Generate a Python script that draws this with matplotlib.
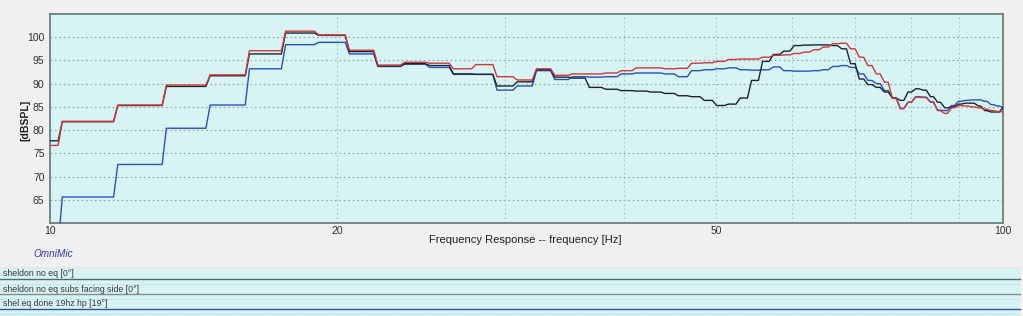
import matplotlib
matplotlib.use("Agg")
import matplotlib.pyplot as plt
from matplotlib.patches import Rectangle
from matplotlib.lines import Line2D

plt.rcParams['font.family'] = ['Liberation Sans', 'DejaVu Sans']

# FFT bin edges (Hz), bin width 48000/32768 Hz
BIN_EDGES_HZ = [8.79, 10.25, 11.72, 13.18, 14.65, 16.11, 17.58, 19.04, 20.51, 21.97,
                23.44, 24.90, 26.37, 27.83, 29.30, 30.76, 32.23, 33.69, 35.16, 36.62,
                38.09, 39.55, 41.02, 42.48, 43.95, 45.41, 46.88, 48.34, 49.80, 51.27,
                52.73, 54.20, 55.66, 57.13, 58.59, 60.06, 61.52, 62.99, 64.45, 65.92,
                67.38, 68.85, 70.31, 71.78, 73.24, 74.71, 76.17, 77.64, 79.10, 80.57,
                82.03, 83.50, 84.96, 86.43, 87.89, 89.36, 90.82, 92.29, 93.75, 95.21,
                96.68, 98.14, 99.61, 101.07]

# series levels per bin [dBSPL]
SHELDON_NO_EQ = [76.7, 81.9, 85.4, 89.7, 91.9, 97.1, 101.3, 100.5, 97.2, 94.0,
                 94.6, 94.4, 93.2, 94.1, 91.5, 90.8, 93.2, 91.8, 92.1, 92.1,
                 92.3, 92.8, 93.4, 93.4, 93.2, 93.3, 94.4, 94.5, 94.8, 95.2,
                 95.3, 95.3, 95.7, 96.1, 96.2, 96.5, 96.8, 97.3, 97.9, 98.6,
                 98.7, 97.5, 95.7, 93.9, 92.1, 90.3, 86.8, 84.6, 86.0, 87.1,
                 87.0, 86.0, 84.2, 83.6, 84.8, 85.3, 85.2, 85.0, 84.8, 84.5,
                 84.2, 84.0, 83.9]

SHELDON_SUBS_SIDE = [77.7, 81.8, 85.3, 89.4, 91.7, 96.4, 100.9, 100.4, 96.9, 93.8,
                     94.3, 93.9, 92.1, 92.0, 89.5, 90.4, 93.0, 91.4, 91.2, 89.2,
                     88.8, 88.5, 88.4, 88.2, 87.9, 87.4, 87.2, 86.4, 85.3, 85.6,
                     86.9, 90.7, 94.8, 96.3, 97.0, 98.2, 98.3, 98.35, 98.35, 98.2,
                     97.5, 94.3, 91.0, 89.8, 89.2, 88.2, 86.9, 86.4, 88.2, 88.9,
                     88.6, 87.2, 86.0, 84.8, 85.0, 85.6, 85.8, 85.8, 85.2, 84.2,
                     83.9, 83.9, 85.0]

SHEL_EQ_19HZ = [55.0, 65.6, 72.6, 80.4, 85.4, 93.2, 98.4, 98.9, 96.4, 93.7,
                94.2, 93.5, 92.0, 92.0, 88.6, 89.5, 92.8, 90.9, 91.5, 91.4,
                91.5, 92.1, 92.3, 92.3, 92.1, 91.5, 92.8, 93.0, 93.2, 93.4,
                93.0, 92.9, 93.0, 93.6, 92.8, 92.7, 92.7, 92.8, 93.0, 93.7,
                93.9, 93.5, 92.1, 90.7, 90.0, 88.5, 86.9, 84.7, 86.0, 87.2,
                87.1, 86.1, 84.3, 84.2, 85.3, 86.2, 86.4, 86.5, 86.5, 86.2,
                85.5, 85.2, 84.8]

LEGEND_LABELS = ["sheldon no eq [0°]",
                 "sheldon no eq subs facing side [0°]",
                 "shel eq done 19hz hp [19°]"]
Y_TICKS = [65, 70, 75, 80, 85, 90, 95, 100]
X_TICKS = [10, 20, 50, 100]
X_GRID = [20, 30, 40, 50, 60, 70, 80, 90]

W, H = 1023, 316
fig = plt.figure(figsize=(W / 100, H / 100), dpi=100)
fig.patch.set_facecolor('#f0f0f0')


def fx(x):
    return x / W


def fy(y):
    return 1 - y / H


def held_path(edges, values, ramp=10 ** 0.0022):
    """Hold each bin level, with a short sloped transition at each bin edge."""
    xs, ys = [], []
    for i, v in enumerate(values):
        xs += [edges[i] * ramp, edges[i + 1] / ramp]
        ys += [v, v]
    return xs, ys


ax = fig.add_axes([fx(50), fy(223), fx(1003) - fx(50), fy(14) - fy(223)])
ax.set_facecolor('#d7f3f3')
ax.set_xscale('log')
ax.set_xlim(10, 100)
ax.set_ylim(60, 105)

for g in Y_TICKS:
    ax.axhline(g, color='#8fa3a6', lw=0.8, ls=(0, (1.5, 2.5)), zorder=1)
for g in X_GRID:
    ax.axvline(g, color='#a9c2c4', lw=0.8, ls=(0, (1.5, 2.5)), zorder=1)

for vals, col, z in [(SHEL_EQ_19HZ, '#2b4fbf', 3),
                     (SHELDON_SUBS_SIDE, '#1c2430', 4),
                     (SHELDON_NO_EQ, '#cc3a3a', 5)]:
    xs, ys = held_path(BIN_EDGES_HZ, vals)
    ax.plot(xs, ys, color=col, lw=1.0, zorder=z, solid_joinstyle='round')

ax.set_xticks(X_TICKS)
ax.set_xticklabels([str(t) for t in X_TICKS])
ax.xaxis.set_minor_locator(matplotlib.ticker.NullLocator())
ax.set_yticks(Y_TICKS)
ax.set_yticklabels([str(t) for t in Y_TICKS])
ax.tick_params(axis='both', length=0, labelsize=7.5, colors='#303030')
ax.tick_params(axis='x', pad=2)
ax.tick_params(axis='y', pad=4)
for s in ax.spines.values():
    s.set_color('#6d7f80')
    s.set_linewidth(1.3)

fig.text(fx(25), fy(120), '[dBSPL]', rotation=90, ha='center', va='center',
         fontsize=7.5, fontweight='bold', color='#202020')
fig.text(fx(525), fy(240), 'Frequency Response -- frequency [Hz]', ha='center',
         va='center', fontsize=8, color='#202020')
fig.text(fx(33), fy(254), 'OmniMic', ha='left', va='center', fontsize=7.2,
         style='italic', color='#3636b8')

# legend strips
fig.patches.append(Rectangle((0, fy(316)), fx(1020), fy(268) - fy(316),
                             transform=fig.transFigure, facecolor='#d7f3f3',
                             edgecolor='none', zorder=0))
fig.lines.append(Line2D([0, fx(1020)], [fy(267.5), fy(267.5)], transform=fig.transFigure,
                        color='#e4e8e8', lw=1.2))
row_line_colors = ['#4f6a6c', '#8a8c8c', '#36509a']
for i, lab in enumerate(LEGEND_LABELS):
    ytxt = 274 + 15 * i
    yline = 279.3 + 15 * i
    ydot = 283.5 + 15 * i
    fig.text(fx(3), fy(ytxt), lab, ha='left', va='center', fontsize=6.3, color='#383838')
    fig.lines.append(Line2D([0, fx(1020)], [fy(yline), fy(yline)], transform=fig.transFigure,
                            color=row_line_colors[i], lw=1.0))
    fig.lines.append(Line2D([0, fx(1020)], [fy(ydot), fy(ydot)], transform=fig.transFigure,
                            color='#a8c4c4', lw=0.7, ls=(0, (1, 2))))

fig.savefig('out.png', dpi=100, facecolor=fig.get_facecolor())
